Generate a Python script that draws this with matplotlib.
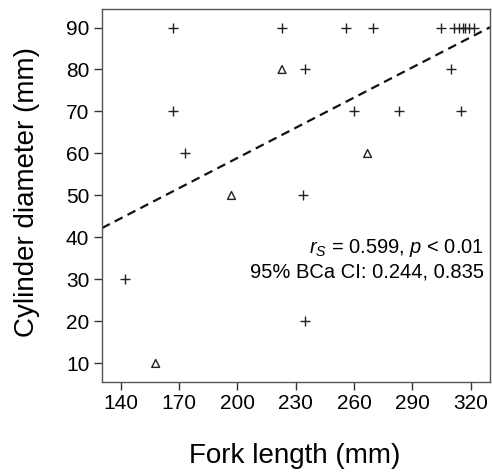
import matplotlib
matplotlib.use("Agg")
import matplotlib.pyplot as plt
import numpy as np

plt.rcParams.update({
    'font.family': ['Liberation Sans', 'DejaVu Sans'],
    'mathtext.fontset': 'custom',
    'mathtext.rm': 'Liberation Sans',
    'mathtext.it': 'Liberation Sans:italic',
})

# data
plus_x = [167, 223, 256, 270, 305, 311.5, 314, 316, 317, 319, 322,
          235, 310,
          167, 260, 283, 315,
          173,
          234,
          142,
          235]
plus_y = [90, 90, 90, 90, 90, 90, 90, 90, 90, 90, 90,
          80, 80,
          70, 70, 70, 70,
          60,
          50,
          30,
          20]
tri_x = [223, 267, 197, 158]
tri_y = [80, 60, 50, 10]

# fitted line (intercept, slope)
fit_b0 = 11.0
fit_b1 = 0.2396

xticks = [140, 170, 200, 230, 260, 290, 320]
yticks = [10, 20, 30, 40, 50, 60, 70, 80, 90]

fig = plt.figure(figsize=(4.92, 4.75), dpi=100)
ax = fig.add_axes([0.207, 0.196, 0.789, 0.785])

ax.scatter(plus_x, plus_y, marker='+', s=60, c='#222222', linewidths=1.0, zorder=3)
ax.scatter(tri_x, tri_y, marker='^', s=32, facecolors='none', edgecolors='#222222',
           linewidths=1.0, zorder=3)

xl = np.array([130.3, 330])
ax.plot(xl, fit_b0 + fit_b1 * xl, ls=(0, (4, 2.5)), color='#111111', lw=1.6, zorder=2)

ax.set_xlim(130.3, 330)
ax.set_ylim(5.6, 94.4)
ax.set_xticks(xticks)
ax.set_yticks(yticks)
ax.tick_params(direction='out', length=6, width=1, colors='#333333',
               labelsize=15, labelcolor='black', pad=3)
for s in ax.spines.values():
    s.set_color('#555555')
    s.set_linewidth(1)

ax.text(0.984, 0.346, r'$r_S$ = 0.599, $p$ < 0.01', transform=ax.transAxes,
        ha='right', va='baseline', fontsize=14.5)
ax.text(0.984, 0.279, '95% BCa CI: 0.244, 0.835', transform=ax.transAxes,
        ha='right', va='baseline', fontsize=14.5)

fig.text(0.598, 0.04, 'Fork length (mm)', ha='center', va='center', fontsize=20)
fig.text(0.055, 0.596, 'Cylinder diameter (mm)', ha='center', va='center',
         rotation=90, fontsize=20)

fig.savefig('out.png', dpi=100)
